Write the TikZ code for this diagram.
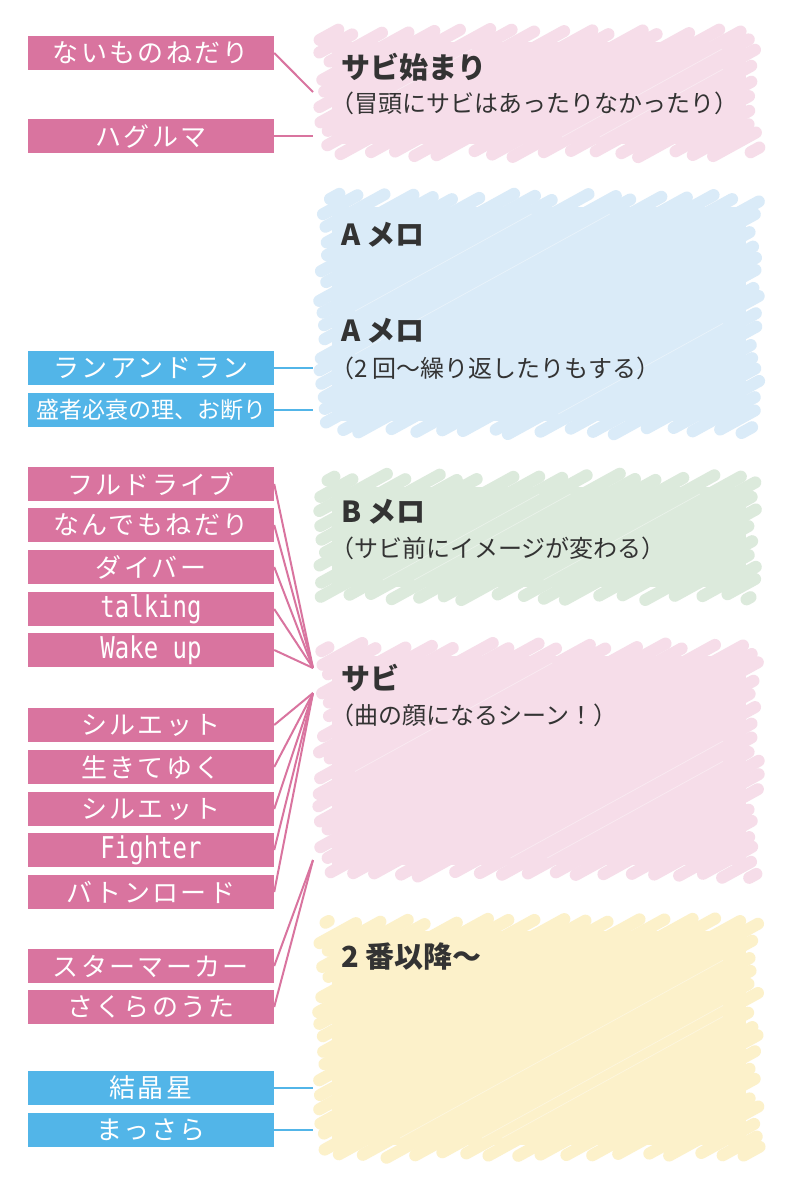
\documentclass[tikz,border=0pt]{standalone}
\usepackage{fontspec}
\newfontfamily\jpf{Noto Sans CJK JP}
\newfontfamily\jplsp{Noto Sans CJK JP}[LetterSpace=9]
\newfontfamily\monof{DejaVu Sans Mono}[FakeStretch=0.8]
\definecolor{pinkbox}{HTML}{D9749F}
\definecolor{bluebox}{HTML}{52B5E8}
\definecolor{pinkL}{HTML}{F6DDE9}
\definecolor{blueL}{HTML}{DAEBF8}
\definecolor{greenL}{HTML}{DCEADC}
\definecolor{yellowL}{HTML}{FCF1CA}
\definecolor{textdark}{HTML}{333333}
\def\scslope{0.55}
\def\scdc{14}
% #1 colour, #2 x0, #3 y0, #4 x1, #5 y1 (pixel coordinates, y downward)
\newcommand\scribblefill[5]{%
  \fill[#1] (#2+17,#3+15) rectangle (#4-17,#5-15);
  \pgfmathsetmacro\qCmin{#3+\scslope*#2}%
  \pgfmathsetmacro\qCmax{#5+\scslope*#4}%
  \pgfmathtruncatemacro\qN{(\qCmax-\qCmin)/\scdc}%
  \foreach \qi in {1,...,\qN}{%
    \pgfmathsetmacro\qc{\qCmin+\qi*\scdc-2+4*rnd}%
    \pgfmathsetmacro\qxa{max(#2,(\qc-#5)/\scslope)+3+12*rnd}%
    \pgfmathsetmacro\qxb{min(#4,(\qc-#3)/\scslope)-3-12*rnd}%
    \ifdim\qxa pt<\qxb pt
      \draw[#1, line width=12pt, line cap=round]
        (\qxa,{\qc-\scslope*\qxa}) -- (\qxb,{\qc-\scslope*\qxb});
    \fi
  }%
  \foreach \qk in {1,2,3}{%
    \pgfmathsetmacro\qc{\qCmin+(0.25+0.5*rnd)*(\qCmax-\qCmin)}%
    \pgfmathsetmacro\qxa{max(#2,(\qc-#5)/\scslope)+40}%
    \pgfmathsetmacro\qxb{min(#4,(\qc-#3)/\scslope)-40}%
    \ifdim\qxa pt<\qxb pt
      \draw[white, opacity=0.4, line width=0.7pt]
        (\qxa,{\qc-\scslope*\qxa}) -- (\qxb,{\qc-\scslope*\qxb});
    \fi
  }%
}
\tikzset{
  lbl/.style={minimum width=246pt, minimum height=34pt, inner sep=0pt, text=white},
  pk/.style={lbl, fill=pinkbox, font=\jplsp\fontsize{26}{26}\selectfont},
  bl/.style={lbl, fill=bluebox, font=\jplsp\fontsize{26}{26}\selectfont},
  pkmono/.style={lbl, fill=pinkbox, font=\monof\fontsize{30}{30}\selectfont},
  hd/.style={anchor=west, inner sep=0pt, text=textdark, font=\jpf\bfseries\fontsize{29}{30}\selectfont},
  sb/.style={anchor=west, inner sep=0pt, text=textdark, font=\jpf\fontsize{24}{26}\selectfont},
  pkline/.style={draw=pinkbox, line width=2pt},
  blline/.style={draw=bluebox, line width=2pt},
}
\begin{document}
\begin{tikzpicture}[x=1pt, y=-1pt]
\useasboundingbox (0,0) rectangle (788,1200);
\fill[white] (0,0) rectangle (788,1200);
\pgfmathsetseed{7}
% scribbled backgrounds
\scribblefill{pinkL}{315}{27}{763}{159}
\scribblefill{blueL}{315}{192}{763}{436}
\scribblefill{greenL}{315}{472}{763}{602}
\scribblefill{pinkL}{315}{641}{763}{880}
\scribblefill{yellowL}{315}{916}{763}{1160}
% headings
\node[hd] (h1) at (341,67) {サビ始まり};
\node[sb] (s1) at (330,103) {（冒頭にサビはあったりなかったり）};
\node[hd] (h2) at (341,235) {A メロ};
\node[hd] (h3) at (341,331) {A メロ};
\node[sb] (s3) at (330,368) {（2 回〜繰り返したりもする）};
\node[hd] (h4) at (341,512) {B メロ};
\node[sb] (s4) at (330,548) {（サビ前にイメージが変わる）};
\node[hd] (h5) at (341,678) {サビ};
\node[sb] (s5) at (330,715) {（曲の顔になるシーン！）};
\node[hd] (h6) at (341,957) {2 番以降〜};
% labels
\node[pk] (n1) at (151,53) {ないものねだり};
\node[pk] (n2) at (151,136) {ハグルマ};
\node[bl] (n3) at (151,368) {ランアンドラン};
\node[lbl, fill=bluebox, font=\jpf\fontsize{23}{24}\selectfont] (n4) at (151,410) {盛者必衰の理、お断り};
\node[pk] (n5) at (151,484) {フルドライブ};
\node[pk] (n6) at (151,525) {なんでもねだり};
\node[pk] (n7) at (151,567) {ダイバー};
\node[pkmono] (n8) at (151,609) {talking};
\node[pkmono] (n9) at (151,650) {Wake up};
\node[pk] (n10) at (151,725) {シルエット};
\node[pk] (n11) at (151,767) {生きてゆく};
\node[pk] (n12) at (151,809) {シルエット};
\node[pkmono] (n13) at (151,850) {Fighter};
\node[pk] (n14) at (151,892) {バトンロード};
\node[pk] (n15) at (151,966) {スターマーカー};
\node[pk] (n16) at (151,1007) {さくらのうた};
\node[bl] (n17) at (151,1088) {結晶星};
\node[bl] (n18) at (151,1130) {まっさら};
% connector targets
\coordinate (t1) at (313,92);
\coordinate (t2) at (313,136);
\coordinate (t3) at (313,368);
\coordinate (t4) at (313,410);
\coordinate (tB) at (313,668);
\coordinate (tS) at (313,693);
\coordinate (tT) at (313,860);
\coordinate (t17) at (313,1088);
\coordinate (t18) at (313,1130);
% connectors
\draw[pkline] (n1.east) -- (t1);
\draw[pkline] (n2.east) -- (t2);
\draw[blline] (n3.east) -- (t3);
\draw[blline] (n4.east) -- (t4);
\foreach \n in {n5,n6,n7,n8,n9} \draw[pkline] (\n.east) -- (tB);
\foreach \n in {n10,n11,n12,n13,n14} \draw[pkline] (\n.east) -- (tS);
\foreach \n in {n15,n16} \draw[pkline] (\n.east) -- (tT);
\draw[blline] (n17.east) -- (t17);
\draw[blline] (n18.east) -- (t18);
\end{tikzpicture}
\end{document}
